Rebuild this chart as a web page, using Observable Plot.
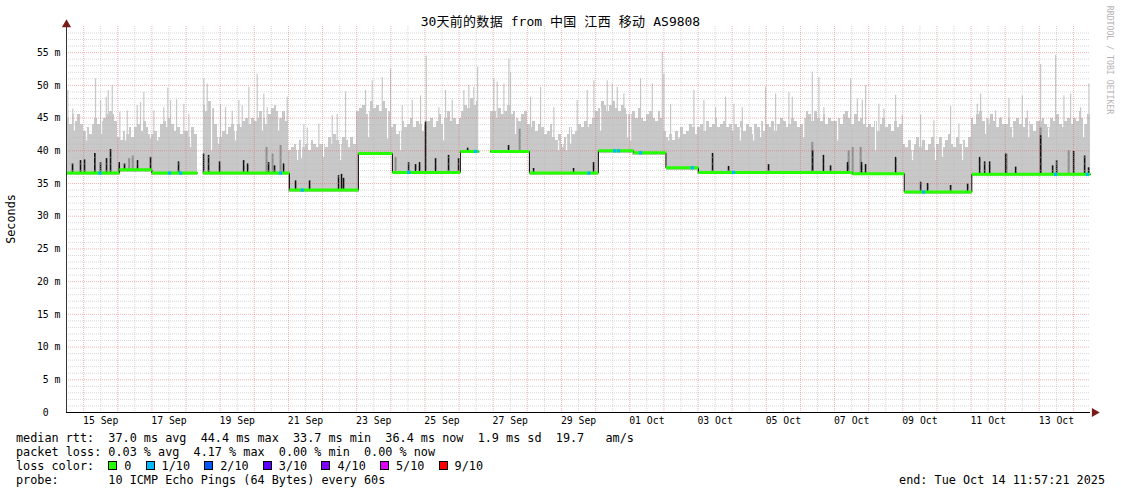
<!DOCTYPE html>
<html><head><meta charset="utf-8">
<script src="https://cdn.jsdelivr.net/npm/d3@7"></script>
<script src="https://cdn.jsdelivr.net/npm/@observablehq/plot@0.6"></script>
<style>
body{margin:0;background:#fff;}
#wrap{position:relative;width:1121px;height:494px;overflow:hidden;font-family:"DejaVu Sans Mono","Noto Sans CJK SC",monospace;color:#000;background:#fff;}
#chart{position:absolute;left:0;top:0;}
#chart svg text{white-space:pre;}
.title{position:absolute;left:0;top:13px;width:1121px;text-align:center;font-size:13px;line-height:16px;white-space:pre;}
.title .cjk{font-family:"Noto Sans CJK SC",sans-serif;letter-spacing:0.3px;}
.ylab{position:absolute;left:11px;top:219px;font-size:11.8px;line-height:14px;white-space:pre;transform:translate(-50%,-50%) rotate(-90deg);}
.wm{position:absolute;left:1110px;top:60px;font-size:8.2px;line-height:10px;color:#b4b4b4;white-space:pre;transform:translate(-50%,-50%) rotate(90deg);}
.lg{position:absolute;left:16px;height:14px;font-size:11.8px;line-height:14px;white-space:pre;}
.sw{position:absolute;top:2px;width:7px;height:7px;border:1px solid #000;}
.end{position:absolute;right:16px;top:473px;font-size:11.8px;line-height:14px;white-space:pre;}
</style>
</head><body>
<div id="wrap">
  <div id="chart"></div>
  <div class="title" id="title"></div>
  <div class="ylab" id="ylab"></div>
  <div class="wm" id="wm"></div>
  <div id="legend"></div>
  <div class="end" id="end"></div>
</div>
<script>
// ---------- texts ----------
const titleParts = [["30",""],["天前的数据","cjk"],[" from ",""],["中国","cjk"],[" ",""],["江西","cjk"],[" ",""],["移动","cjk"],[" AS9808",""]];
const yLabel = "Seconds";
const watermark = "RRDTOOL / TOBI OETIKER";
const rttStats = ["37.0 ms avg", "44.4 ms max", "33.7 ms min", "36.4 ms now", "1.9 ms sd", "19.7   am/s"];
const lossStats = ["0.03 % avg", "4.17 % max", "0.00 % min", "0.00 % now"];
const lossLabels = ["0", "1/10", "2/10", "3/10", "4/10", "5/10", "9/10"];
const lossColors = ["#26ff00", "#00b8ff", "#0059ff", "#5e00ff", "#7e00ff", "#dd00ff", "#ff0000"];
const probeText = "10 ICMP Echo Pings (64 Bytes) every 60s";
const endText = "end: Tue Oct 14 11:57:21 2025";

// ---------- axes ----------
const yTicks = [0, 5, 10, 15, 20, 25, 30, 35, 40, 45, 50, 55];
const yTickLabels = ["0  ", "5 m", "10 m", "15 m", "20 m", "25 m", "30 m", "35 m", "40 m", "45 m", "50 m", "55 m"];
const xTickTimes = ["09-15 12:00","09-17 12:00","09-19 12:00","09-21 12:00","09-23 12:00","09-25 12:00","09-27 12:00","09-29 12:00","10-01 12:00","10-03 12:00","10-05 12:00","10-07 12:00","10-09 12:00","10-11 12:00","10-13 12:00"];
const xTickLabels = ["15 Sep","17 Sep","19 Sep","21 Sep","23 Sep","25 Sep","27 Sep","29 Sep","01 Oct","03 Oct","05 Oct","07 Oct","09 Oct","11 Oct","13 Oct"];

// ---------- data (ms) ----------
// median RTT level per period: [from, to, ms]
const medianSegments = [
  ["09-14 11:57", "09-16 01:05", 36.6],
  ["09-16 01:05", "09-17 00:00", 37.1],
  ["09-17 00:00", "09-18 07:57", 36.6],
  ["09-18 11:57", "09-21 00:40", 36.6],
  ["09-21 00:40", "09-23 01:10", 34.0],
  ["09-23 01:10", "09-24 01:05", 39.6],
  ["09-24 01:05", "09-26 00:53", 36.7],
  ["09-26 00:53", "09-26 13:57", 39.9],
  ["09-26 21:57", "09-28 01:26", 39.9],
  ["09-28 01:26", "09-30 01:56", 36.6],
  ["09-30 01:56", "10-01 02:40", 40.0],
  ["10-01 02:40", "10-02 01:26", 39.7],
  ["10-02 01:26", "10-03 00:15", 37.4],
  ["10-03 00:15", "10-07 12:30", 36.7],
  ["10-07 12:30", "10-09 01:00", 36.5],
  ["10-09 01:00", "10-11 00:30", 33.7],
  ["10-11 00:30", "10-14 11:58", 36.4]
];
// top of the smoke (slowest ping), one value per 2 h from the start; null = no data
const smokeTop = [
  45,44,45.5,44.5,45.5,44,
  43,43.5,42.5,44,45,44,44.5,45,45.5,46,45.5,44.5,
  42,41.5,43,42.5,43.5,42,43.5,44,43,44.5,43.5,42.5,
  42.5,43,42,44,44.5,43.5,45,44,43,43.5,42.5,43,
  43,42,43.5,42.5,null,null,47,46,47.5,46.5,44,42,
  42,43,42.5,43.5,44,43,44,43.5,44.5,45,44,45,
  44.5,45,46,45,44,45.5,46.5,47,46,45,46,44.5,
  40,40.5,41,40,41.5,40.5,41,40,41.5,41,40.5,41,
  41,40.5,42,41,42.5,41.5,41,42,41.5,40.5,42,41,
  46,46.5,47,45.5,46,47.5,46.5,47,46,47.5,46.5,46,
  43.5,44,42.5,43,44.5,43.5,44,45,43.5,44.5,44,43,
  44,44.5,45,43.5,44.5,45.5,44,45,46,44.5,45,44,
  45,46,47,46.5,48,47,47.5,null,null,null,null,46,
  46,45,46.5,45.5,46,47,45.5,46,45,44.5,45.5,46,
  44,43.5,44.5,43,44,43.5,42.5,43,44,42,41.5,42.5,
  41,42,42.5,43.5,42.5,43,44,43.5,44.5,43.5,44,45,
  46,46.5,47.5,47,46,47,47.5,46.5,46,47,46.5,45.5,
  45.5,46,45,46.5,45,44.5,45.5,46,45,44.5,46,45,
  43,42,42.5,41.5,43,42,43.5,42.5,43,44,43.5,42.5,
  43.5,44,43,44.5,43.5,44,45,43.5,44,44.5,43.5,44,
  43,44,43.5,44.5,43,44,43.5,42.5,44,43.5,44.5,43,
  44,43.5,44.5,43,44,45,44.5,43.5,44,45,44.5,43.5,
  44,45,46,45.5,44.5,46,45,44.5,45.5,44,45,44.5,
  44.5,45,44,45.5,46,45,44,45.5,44.5,45,44,43.5,
  44,43.5,44.5,43,44,45,43.5,44,43,44.5,43.5,44,
  41,40.5,41.5,40,41,42,40.5,41.5,40,41,42,40.5,
  41,42,40.5,41.5,42.5,41,40.5,42,41,41.5,40.5,42,
  45,44,45.5,46,44.5,45,44,45.5,44.5,43.5,45,44,
  44,45,43.5,44.5,45,44,43.5,45,44.5,44,43,44.5,
  44.5,45,44,43.5,45,44.5,45.5,44,43.5,44.5,45,44,
  45,44.5,46,45,44,45.5
];
// minutes whose slowest ping stayed low (white gaps in the smoke): [time, ms]
const smokeDips = [
  ["09-14 17:30",43.0],["09-15 02:02",41.5],["09-15 12:35",42.5],["09-16 05:28",41.5],["09-16 23:03",41.8],["09-17 04:00",41.5],
  ["09-18 03:10",40.5],["09-18 17:56",40.0],["09-18 22:52",41.0],["09-19 10:48",41.5],["09-20 05:48",43.0],["09-20 17:04",43.0],
  ["09-21 06:25",38.5],["09-21 09:13",38.8],["09-22 00:42",39.0],["09-22 12:38",38.5],["09-23 08:20",42.0],["09-23 21:42",41.8],
  ["09-24 06:50",40.0],["09-25 13:05",41.5],["09-27 15:42",42.5],["09-28 21:56",40.0],["09-29 00:46",40.5],["09-29 03:34",40.0],
  ["09-29 06:24",41.0],["09-30 03:30",43.0],["09-30 22:30",42.0],["10-01 00:36",41.5],["10-02 03:18",41.5],["10-02 10:18",41.8],
  ["10-04 05:48",41.5],["10-04 15:06",41.5],["10-04 20:00",42.0],["10-06 02:16",42.0],["10-07 02:10",41.5],["10-08 04:48",40.0],
  ["10-09 06:48",38.5],["10-09 23:00",38.5],["10-10 03:54",39.0],["10-10 18:00",38.5],["10-11 10:12",42.5],["10-12 05:12",42.0],
  ["10-12 16:30",42.0],["10-13 06:30",42.0],["10-14 07:06",42.0]
];
// isolated slow pings: [time, ms]
const smokeSpikes = [
  ["09-14 12:54",49.2],["09-14 16:24",46.4],["09-15 08:22",51.0],["09-15 11:53",47.7],["09-15 15:54",48.2],["09-15 17:18",49.2],["09-15 20:07",50.0],
  ["09-16 01:27",45.9],["09-16 06:40",46.1],["09-16 13:41",46.9],["09-16 16:00",47.4],["09-16 18:20",48.9],["09-17 01:22",46.1],["09-17 08:24",46.6],
  ["09-17 11:13",49.6],["09-17 13:07",47.7],["09-17 17:20",47.8],["09-17 22:28",47.1],["09-18 01:59",45.6],["09-18 12:31",51.0],["09-18 14:55",50.2],
  ["09-19 00:16",47.1],["09-19 03:47",46.6],["09-19 08:29",46.1],["09-19 13:08",47.7],["09-19 15:31",46.9],["09-19 20:10",49.7],["09-20 02:04",51.7],
  ["09-20 06:43",48.7],["09-20 09:06",46.6],["09-20 23:10",48.2],["09-21 10:50",44.0],["09-21 13:14",43.5],["09-21 21:24",44.1],["09-22 06:48",45.4],
  ["09-22 10:19",45.6],["09-22 16:10",49.0],["09-23 06:13",49.2],["09-23 10:55",50.7],["09-23 17:58",51.2],["09-23 23:49",52.5],["09-24 08:02",46.9],
  ["09-24 15:04",47.7],["09-24 20:55",48.4],["09-25 00:55",54.5],["09-25 09:46",46.6],["09-25 14:28",49.2],["09-25 19:11",47.7],["09-26 03:20",49.2],
  ["09-26 06:51",50.0],["09-26 10:22",49.7],["09-26 12:59",52.8],["09-27 00:27",51.0],["09-27 02:50",50.5],["09-27 07:29",50.2],["09-27 10:59",54.0],
  ["09-27 12:11",52.0],["09-28 02:15",48.2],["09-28 09:17",49.7],["09-28 18:38",46.6],["09-29 11:04",47.7],["09-29 18:06",49.2],["09-29 22:46",50.7],
  ["09-30 08:11",50.7],["09-30 11:42",50.2],["09-30 15:13",49.7],["09-30 19:52",48.7],["10-01 07:36",51.0],["10-01 15:50",50.2],["10-01 22:52",55.1],
  ["10-02 00:00",51.7],["10-02 04:42",47.1],["10-02 21:06",49.2],["10-03 04:08",47.7],["10-03 12:21",46.6],["10-03 19:23",48.2],["10-04 01:14",47.1],
  ["10-04 07:08",46.6],["10-04 23:31",49.7],["10-05 06:33",48.7],["10-05 15:54",48.9],["10-05 18:17",48.2],["10-06 08:21",52.0],["10-06 13:00",51.2],
  ["10-06 16:31",46.6],["10-07 11:18",51.0],["10-07 16:01",47.9],["10-07 19:32",47.7],["10-07 21:50",50.0],["10-08 07:11",47.1],["10-08 10:42",46.4],
  ["10-08 18:56",48.5],["10-08 23:38",45.4],["10-09 12:30",45.5],["10-09 21:51",44.6],["10-10 09:35",46.8],["10-10 15:26",44.1],["10-11 04:22",47.1],
  ["10-11 06:42",48.7],["10-11 12:32",44.8],["10-11 17:15",46.1],["10-11 20:46",45.1],["10-12 02:37",48.0],["10-12 12:01",48.4],["10-12 15:32",46.1],
  ["10-13 00:53",53.2],["10-13 11:25",54.6],["10-13 17:16",48.4],["10-13 21:58",48.7],["10-14 05:00",46.6],["10-14 10:52",50.2]
];
// dense (darker) smoke near the median: [time, ms]
const denseSmoke = [
  ["09-16 08:00",38.8],["09-16 10:30",39.2],["09-20 08:37",40.5],["09-20 12:50",39.5],["09-20 18:29",40.8],["09-24 03:20",39.0],
  ["09-27 18:35",43.3],["10-06 08:21",41.3],["10-07 09:55",40.0],["10-07 12:42",40.5],["10-07 18:20",40.5],["10-12 01:00",39.5],
  ["10-13 00:53",43.5],["10-13 20:36",40.0]
];
// most pings slow (black smoke): [time, ms]
const heavySmoke = [
  ["09-14 16:12",38.0],["09-14 21:49",38.5],["09-15 00:38",38.6],["09-15 07:52",39.6],["09-15 11:53",38.2],["09-15 16:06",38.8],["09-15 18:55",40.2],
  ["09-16 01:02",38.2],["09-16 04:45",38.0],["09-16 13:54",38.5],["09-16 23:03",39.0],["09-17 18:44",38.3],["09-18 12:19",39.5],["09-18 15:50",39.3],
  ["09-18 23:34",38.3],["09-19 16:30",38.5],["09-19 19:18",38.0],["09-20 10:02",38.2],["09-20 14:15",37.7],["09-20 20:35",38.0],["09-21 05:01",35.4],
  ["09-21 14:52",35.4],["09-22 11:15",36.2],["09-22 13:21",36.4],["09-22 14:45",35.8],["09-24 12:28",38.2],["09-24 17:23",37.9],["09-24 20:12",38.2],
  ["09-25 00:25",44.4],["09-25 07:27",38.8],["09-25 16:36",39.3],["09-25 23:38",38.8],["09-26 06:00",40.4],["09-27 10:47",40.8],["09-28 04:22",37.3],
  ["09-29 08:29",37.3],["09-29 22:32",38.2],["10-03 10:13",39.6],["10-03 21:28",37.6],["10-05 01:35",37.9],["10-06 08:33",40.0],["10-06 16:11",39.3],
  ["10-06 21:11",37.7],["10-07 09:08",38.2],["10-07 19:00",38.2],["10-07 21:48",37.9],["10-08 18:56",39.0],["10-09 12:30",35.2],["10-09 17:25",35.0],
  ["10-10 09:35",34.7],["10-10 21:33",34.9],["10-11 06:00",39.0],["10-11 09:31",38.3],["10-11 13:02",38.3],["10-12 00:18",39.5],["10-12 07:20",37.5],
  ["10-13 00:53",42.3],["10-13 09:19",37.7],["10-13 12:08",38.5],["10-14 00:05",39.9],["10-14 07:50",39.2],["10-14 10:37",37.4]
];
// moments with 1/10 packet loss
const lossTimes = ["09-15 11:24","09-17 12:24","09-17 20:08","09-20 18:29","09-21 09:43","09-24 12:42","09-26 11:36","09-29 19:16",
  "09-30 13:20","09-30 16:08","10-01 07:36","10-02 20:00","10-04 01:00","10-09 14:36","10-13 11:25","10-14 09:42"];

// ---------- build ----------
const T = s => new Date(`2025-${s.replace(" ", "T")}:00Z`);
const start = new Date(Date.UTC(2025, 8, 14, 11, 57, 21));
const end = new Date(Date.UTC(2025, 9, 14, 11, 57, 21));
const step = 2 * 3600e3;

const segs = medianSegments.map(([a, b, v], i) => ({t0: T(a), t1: T(b), v, i}));
function medianAt(t) {
  for (const s of segs) if (t >= s.t0 && t < s.t1) return s.v;
  let best = segs[0].v, bd = Infinity;
  for (const s of segs) { const d = Math.min(Math.abs(t - s.t0), Math.abs(t - s.t1)); if (d < bd) { bd = d; best = s.v; } }
  return best;
}
const binTopAt = t => smokeTop[Math.max(0, Math.min(smokeTop.length - 1, Math.floor((t - start) / step)))];
const smoke = smokeTop.map((v, i) => {
  const t0 = new Date(+start + i * step), t1 = new Date(+start + (i + 1) * step);
  const m = medianAt(new Date(+start + (i + 0.5) * step));
  return v == null ? null : {t0, t1, lo: m - 0.35, hi: v};
}).filter(d => d);
const toRule = ([s, v]) => { const t = T(s); return {t, lo: medianAt(t), hi: v}; };
const dips = smokeDips.map(([s, v]) => { const t = T(s); return {t, lo: v, hi: binTopAt(t) ?? v}; }).filter(d => d.hi > d.lo);
const spikes = smokeSpikes.map(toRule);
const dense = denseSmoke.map(toRule);
const heavy = heavySmoke.map(toRule);
const loss = lossTimes.map(s => { const t = T(s); return {t, v: medianAt(t)}; });

const greenPts = segs.flatMap(s => [{t: s.t0 < start ? start : s.t0, v: s.v, seg: s.i}, {t: s.t1 > end ? end : s.t1, v: s.v, seg: s.i}]);
const stepPts = [];
segs.forEach((s, i) => {
  if (i > 0 && s.t0 > segs[i - 1].t1) stepPts.push({t: segs[i - 1].t1, v: NaN});
  stepPts.push({t: s.t0 < start ? start : s.t0, v: s.v}, {t: s.t1 > end ? end : s.t1, v: s.v});
});

const midnights = d3.utcDay.range(d3.utcDay.ceil(start), end);
const noons = midnights.map(d => d3.utcHour.offset(d, 12)).filter(d => d < end);
const minorY = d3.range(1, 59).filter(v => v % 5 !== 0);
const majorY = d3.range(5, 59, 5);

const chart = Plot.plot({
  width: 1121, height: 494,
  marginLeft: 66, marginRight: 31, marginTop: 26, marginBottom: 82,
  style: {fontFamily: "'DejaVu Sans Mono', monospace", fontSize: "9.8px", background: "transparent", color: "#000", overflow: "visible"},
  x: {type: "utc", domain: [start, end]},
  y: {domain: [0, 59]},
  marks: [
    Plot.rect(smoke, {x1: "t0", x2: "t1", y1: "lo", y2: "hi", fill: "#c8c8c8", shapeRendering: "crispEdges"}),
    Plot.ruleX(dips, {x: "t", y1: "lo", y2: "hi", stroke: "#fff", strokeWidth: 1.2}),
    Plot.ruleX(spikes, {x: "t", y1: "lo", y2: "hi", stroke: "#c8c8c8", strokeWidth: 1.2}),
    Plot.ruleX(dense, {x: "t", y1: "lo", y2: "hi", stroke: "#8e8e8e", strokeWidth: 2}),
    Plot.ruleX(heavy, {x: "t", y1: "lo", y2: "hi", stroke: "#111", strokeWidth: 1.6}),
    Plot.ruleY(minorY, {stroke: "#b8b8b8", strokeOpacity: 0.55, strokeDasharray: "1,1"}),
    Plot.ruleY(majorY, {stroke: "#e05a5a", strokeOpacity: 0.45, strokeDasharray: "1,1"}),
    Plot.ruleX(noons, {stroke: "#b8b8b8", strokeOpacity: 0.55, strokeDasharray: "1,1"}),
    Plot.ruleX(midnights, {stroke: "#e05a5a", strokeOpacity: 0.45, strokeDasharray: "1,1"}),
    Plot.line(stepPts, {x: "t", y: "v", stroke: "#000", strokeWidth: 1}),
    Plot.line(greenPts, {x: "t", y: "v", z: "seg", stroke: lossColors[0], strokeWidth: 3, strokeLinecap: "butt"}),
    Plot.dot(loss, {x: "t", y: "v", symbol: "square", r: 1.8, fill: lossColors[1]}),
    Plot.ruleY([0], {stroke: "#000"}),
    Plot.ruleX([start], {stroke: "#333", y1: 0, y2: 59}),
    Plot.dot([{t: end, v: 0}], {x: "t", y: "v", symbol: "triangle", rotate: 90, r: 3.4, fill: "#7a1b1b", dx: 4}),
    Plot.dot([{t: start, v: 59}], {x: "t", y: "v", symbol: "triangle", r: 3.4, fill: "#7a1b1b", dy: -2}),
    Plot.axisX(xTickTimes.map(T), {anchor: "bottom", tickSize: 0, tickPadding: 5, tickFormat: (d, i) => xTickLabels[i], label: null}),
    Plot.axisY(yTicks, {anchor: "left", tickSize: 0, tickPadding: 6, tickFormat: (d, i) => yTickLabels[i], label: null})
  ]
});
document.getElementById("chart").appendChild(chart);

// ---------- html texts ----------
document.getElementById("title").innerHTML = titleParts.map(([s, c]) => c ? `<span class="${c}">${s}</span>` : s).join("");
document.getElementById("ylab").textContent = yLabel;
document.getElementById("wm").textContent = watermark;
document.getElementById("end").textContent = endText;

const legend = document.getElementById("legend");
const addLine = (top, text) => { const d = document.createElement("div"); d.className = "lg"; d.style.top = top + "px"; d.textContent = text; legend.appendChild(d); return d; };
addLine(431, "median rtt:  " + rttStats.join("  "));
addLine(445, "packet loss: " + lossStats.join("  "));
addLine(459, "loss color:");
addLine(473, "probe:       " + probeText);
// loss colour swatches: each item = 16px box slot + label + two spaces (7.1px per char)
let lx = 16 + 13 * 7.1;
lossLabels.forEach((l, i) => {
  const b = document.createElement("div");
  b.className = "sw"; b.style.left = lx + "px"; b.style.top = "461px"; b.style.background = lossColors[i];
  legend.appendChild(b);
  const d = document.createElement("div");
  d.className = "lg"; d.style.left = (lx + 16) + "px"; d.style.top = "459px"; d.textContent = l;
  legend.appendChild(d);
  lx += 16 + (l.length + 2) * 7.1;
});
</script>
</body></html>
